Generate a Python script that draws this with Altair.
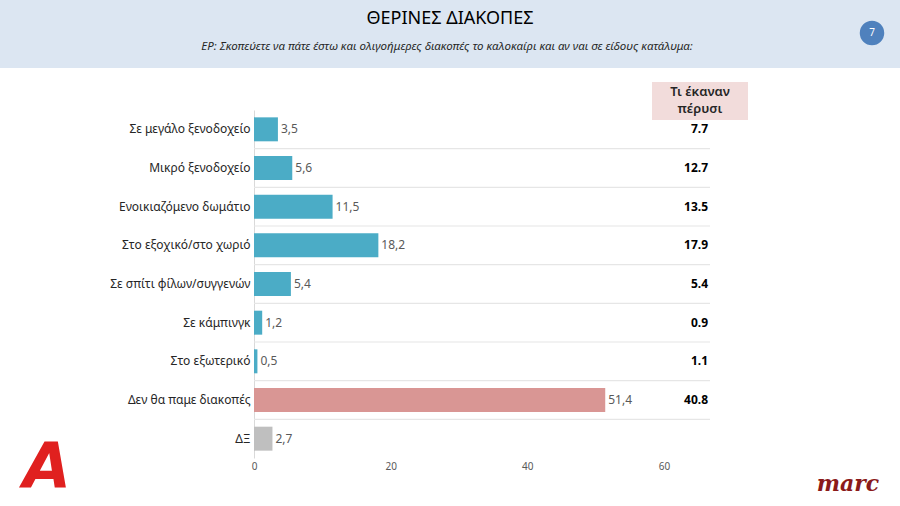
import altair as alt
import pandas as pd

# Survey answers: where respondents plan to spend summer holidays
categories = [
    "Σε μεγάλο ξενοδοχείο",
    "Μικρό ξενοδοχείο",
    "Ενοικιαζόμενο δωμάτιο",
    "Στο εξοχικό/στο χωριό",
    "Σε σπίτι φίλων/συγγενών",
    "Σε κάμπινγκ",
    "Στο εξωτερικό",
    "Δεν θα παμε διακοπές",
    "ΔΞ",
]
this_year = [3.5, 5.6, 11.5, 18.2, 5.4, 1.2, 0.5, 51.4, 2.7]
last_year = ["7.7", "12.7", "13.5", "17.9", "5.4", "0.9", "1.1", "40.8", ""]
groups = ["place"] * 7 + ["none", "dk"]
x_ticks = [0, 20, 40, 60]

# Layout (plot area placed inside a 900x506 canvas)
LEFT, TOP = 254, 110
PLOT_W, PLOT_H = 456, 348
FONT = "Noto Sans"

df = pd.DataFrame({
    "cat": categories,
    "value": this_year,
    "last": last_year,
    "group": groups,
})
bounds = pd.DataFrame({"b": list(range(1, len(categories)))})
one = pd.DataFrame({"k": [0]})

y_enc = alt.Y(
    "cat:N",
    sort=categories,
    scale=alt.Scale(paddingInner=0.38, paddingOuter=0.19),
    axis=alt.Axis(
        title=None, ticks=False, domain=True, domainColor="#d9d9d9",
        labelFont=FONT, labelFontSize=12, labelColor="#262626",
        labelPadding=4, labelLimit=250,
    ),
)
x_enc = alt.X(
    "value:Q",
    scale=alt.Scale(domain=[0, 60 * PLOT_W / 410], nice=False, zero=True),
    axis=alt.Axis(
        title=None, values=x_ticks, ticks=False, domain=False, grid=False,
        labelFlush=False,
        labelFont=FONT, labelFontSize=10, labelColor="#595959", labelPadding=3,
    ),
)

base = alt.Chart(df)

# Row separators between categories
separators = alt.Chart(bounds).mark_rule(color="#e6e6e6", strokeWidth=1.2).encode(
    x=alt.value(0),
    x2=alt.value(PLOT_W),
    y=alt.Y("b:Q", scale=alt.Scale(domain=[0, len(categories)], reverse=True), axis=None),
)

bars = base.mark_bar().encode(
    x=x_enc,
    y=y_enc,
    color=alt.Color(
        "group:N",
        scale=alt.Scale(domain=["place", "none", "dk"], range=["#4bacc6", "#d99694", "#bfbfbf"]),
        legend=None,
    ),
)

labels = base.transform_calculate(
    lab="replace(format(datum.value, '.1f'), '.', ',')"
).mark_text(align="left", baseline="middle", dx=3, font=FONT, fontSize=12, color="#595959").encode(
    x="value:Q",
    y=alt.Y("cat:N", sort=categories),
    text="lab:N",
)

# Previous-year column
last_col = base.mark_text(
    align="right", baseline="middle", font=FONT, fontSize=12, fontWeight="bold", color="#000000"
).encode(
    x=alt.value(PLOT_W - 2),
    y=alt.Y("cat:N", sort=categories),
    text="last:N",
)

main = alt.layer(bars, labels, last_col)

# Header band with title and question text
band = alt.Chart(one).mark_rect(color="#dce6f2").encode(
    x=alt.value(-LEFT), x2=alt.value(900 - LEFT),
    y=alt.value(-TOP), y2=alt.value(68 - TOP),
)
title = alt.Chart(one).mark_text(
    text="ΘΕΡΙΝΕΣ ΔΙΑΚΟΠΕΣ", font=FONT, fontSize=18, color="#000000",
    align="center", baseline="middle",
).encode(x=alt.value(450 - LEFT), y=alt.value(19 - TOP))
subtitle = alt.Chart(one).mark_text(
    text="ΕΡ: Σκοπεύετε να πάτε έστω και ολιγοήμερες διακοπές το καλοκαίρι και αν ναι σε είδους κατάλυμα:",
    font=FONT, fontSize=11.5, fontStyle="italic", color="#262626",
    align="center", baseline="middle",
).encode(x=alt.value(447 - LEFT), y=alt.value(47 - TOP))
page_dot = alt.Chart(one).mark_point(
    shape="circle", filled=True, size=600, color="#4f81bd", opacity=1
).encode(x=alt.value(872 - LEFT), y=alt.value(33 - TOP))
page_num = alt.Chart(one).mark_text(
    text="7", font=FONT, fontSize=10, color="#ffffff", align="center", baseline="middle"
).encode(x=alt.value(872 - LEFT), y=alt.value(33 - TOP))

# Column header for last year's figures
col_box = alt.Chart(one).mark_rect(color="#f2dcdb").encode(
    x=alt.value(652 - LEFT), x2=alt.value(748 - LEFT),
    y=alt.value(82 - TOP), y2=alt.value(120 - TOP),
)
col_head1 = alt.Chart(one).mark_text(
    text="Τι έκαναν", font=FONT, fontSize=13, fontWeight=600, color="#262626",
    align="center", baseline="middle",
).encode(x=alt.value(700 - LEFT), y=alt.value(92 - TOP))
col_head2 = alt.Chart(one).mark_text(
    text="πέρυσι", font=FONT, fontSize=13, fontWeight=600, color="#262626",
    align="center", baseline="middle",
).encode(x=alt.value(700 - LEFT), y=alt.value(109 - TOP))

# Brand marks
alpha_logo = alt.Chart(one).mark_text(
    text="A", font="DejaVu Sans", fontSize=62, fontWeight="bold", fontStyle="italic",
    color="#e0201f", align="center", baseline="middle",
).encode(x=alt.value(47 - LEFT), y=alt.value(468 - TOP))
marc_logo = alt.Chart(one).mark_text(
    text="marc", font="DejaVu Serif", fontSize=22, fontWeight="bold", fontStyle="italic",
    color="#8b1a1a", align="center", baseline="middle",
).encode(x=alt.value(848 - LEFT), y=alt.value(484 - TOP))

chart = alt.layer(
    band, title, subtitle, page_dot, page_num,
    separators, col_box, col_head1, col_head2, main,
    alpha_logo, marc_logo,
).resolve_scale(y="independent").properties(
    width=PLOT_W,
    height=PLOT_H,
    padding={"left": LEFT, "top": TOP, "right": 900 - LEFT - PLOT_W, "bottom": 506 - TOP - PLOT_H},
    autosize=alt.AutoSizeParams(type="none"),
    background="#ffffff",
).configure_view(stroke=None)

chart.save("out.html", embed_options={"renderer": "svg", "actions": False})
